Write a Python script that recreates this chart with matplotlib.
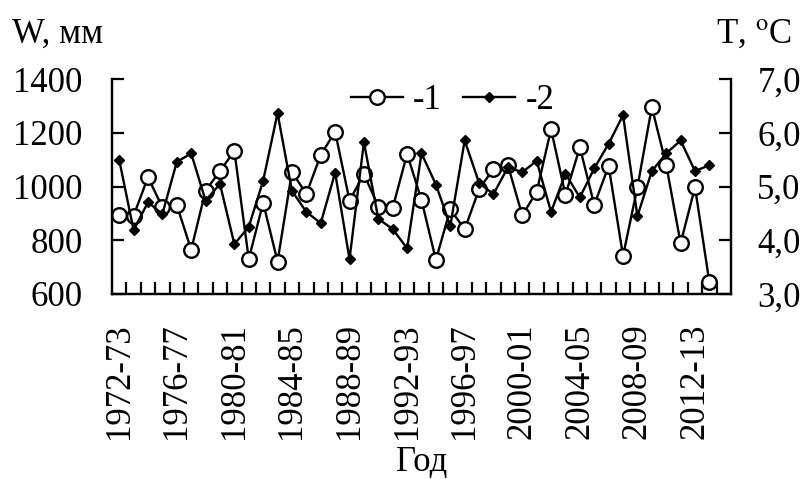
import matplotlib
matplotlib.use('Agg')
import matplotlib.pyplot as plt
import numpy as np

plt.rcParams['font.family'] = ['Liberation Serif', 'DejaVu Serif']
plt.rcParams['mathtext.fontset'] = 'stix'

# W, mm (series 1) and T, degC (series 2) per hydrological year, 1972-73 .. 2013-14
w_mm = [895, 892, 1035, 923, 931, 765, 985, 1058, 1133,
        730, 940, 721, 1055, 973, 1118, 1205, 948,
        1047, 926, 921, 1122, 950, 727, 916, 841,
        990, 1067, 1080, 893, 981, 1214, 969, 1147, 932,
        1077, 742, 998, 1296, 1081, 789, 998, 643]
t_c = [5.50, 4.19, 4.71, 4.49, 5.46, 5.62, 4.74, 5.05, 3.93,
       4.25, 5.11, 6.37, 4.92, 4.53, 4.32, 5.26, 3.65,
       5.83, 4.40, 4.21, 3.85, 5.62, 5.04, 4.27, 5.86,
       5.07, 4.86, 5.36, 5.27, 5.48, 4.53, 5.24, 4.80, 5.34,
       5.80, 6.33, 4.45, 5.29, 5.62, 5.86, 5.29, 5.40]
n_cat = 43
tick_labels = ['1972-73', '1976-77', '1980-81', '1984-85', '1988-89', '1992-93',
               '1996-97', '2000-01', '2004-05', '2008-09', '2012-13']
w_ticks = [600, 800, 1000, 1200, 1400]
t_ticks = [3.0, 4.0, 5.0, 6.0, 7.0]

fs = 25
fig = plt.figure(figsize=(8.03, 4.79), dpi=100)
ax = fig.add_axes([112/803, 1-294/479, (731-112)/803, (294-79.3)/479])
ax2 = ax.twinx()

x = np.arange(len(w_mm))
l1, = ax.plot(x, w_mm, color='black', lw=1.7, marker='o', ms=10.5,
              mfc='white', mec='black', mew=1.7, label='-1')
l2, = ax2.plot(x, t_c, color='black', lw=1.7, marker='D', ms=5,
               mfc='black', mec='black', label='-2')

ax.set_xlim(-0.5, n_cat - 0.5)
ax.set_ylim(600, 1400)
ax2.set_ylim(3.0, 7.0)

ax.set_yticks(w_ticks)
ax.set_yticklabels([str(v) for v in w_ticks], fontsize=fs)
ax2.set_yticks(t_ticks)
ax2.set_yticklabels([f'{v:.1f}'.replace('.', ',') for v in t_ticks], fontsize=fs)

ax.set_xticks(np.arange(0, n_cat, 4))
ax.set_xticklabels(tick_labels, rotation=90, fontsize=fs)
ax.set_xticks(np.arange(0.5, n_cat - 1, 1), minor=True)
ax.tick_params(axis='x', which='major', length=0, pad=21)
ax.tick_params(axis='x', which='minor', direction='in', length=8.5, width=1.6)
ax.tick_params(axis='y', direction='in', length=8.5, width=1.6, pad=21)
ax2.tick_params(axis='y', direction='in', length=8.5, width=1.6, pad=19)

for a in (ax, ax2):
    a.spines['top'].set_visible(False)
    for s in ('left', 'right', 'bottom'):
        a.spines[s].set_linewidth(1.6)

ax.set_xlabel('Год', fontsize=fs, labelpad=5)
fig.text(12/803, 1-34/479, 'W, мм', fontsize=fs, ha='left', va='center')
fig.text(792/803, 1-34/479, r'T, $^{\mathrm{o}}$C', fontsize=fs, ha='right', va='center')

ax2.legend([l1, l2], ['-1', '-2'], loc='center', bbox_to_anchor=(0.55, 0.9),
           ncol=2, frameon=False, fontsize=fs, handlelength=1.5,
           handletextpad=0.3, columnspacing=0.6, borderpad=0)

fig.savefig('out.png', dpi=100)
